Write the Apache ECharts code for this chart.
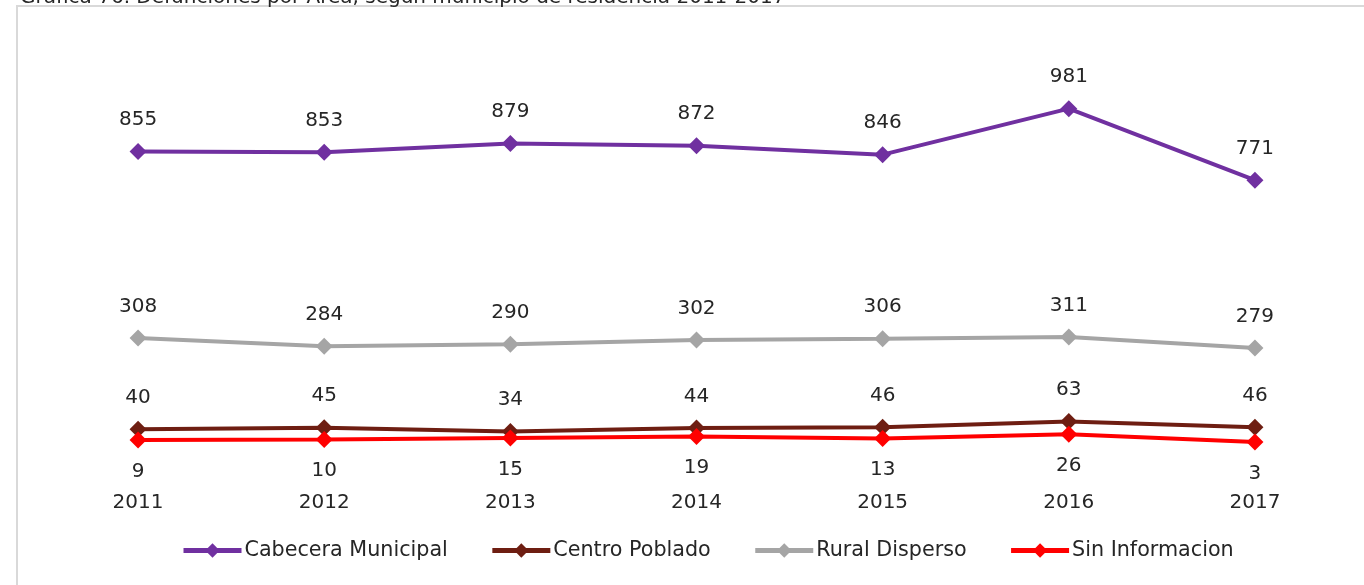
<!DOCTYPE html>
<html>
<head>
<meta charset="utf-8">
<script src="https://cdn.jsdelivr.net/npm/echarts@6/dist/echarts.min.js"></script>
<style>
  html, body { margin: 0; padding: 0; background: #fff; }
  #chart1 { width: 1364px; height: 585px; }
</style>
</head>
<body>
<div id="chart1"></div>
<script>
var years = ['2011', '2012', '2013', '2014', '2015', '2016', '2017'];
var cabecera = [855, 853, 879, 872, 846, 981, 771];
var centro = [40, 45, 34, 44, 46, 63, 46];
var rural = [308, 284, 290, 302, 306, 311, 279];
var sinInfo = [9, 10, 15, 19, 13, 26, 3];

var font = '"DejaVu Sans", sans-serif';
var txt = '#262626';
var myChart1 = echarts.init(document.getElementById('chart1'));

function mkSeries(name, data, color, pos) {
    return {
        type: 'line',
        name: name,
        data: data,
        symbol: 'diamond',
        symbolSize: 17,
        lineStyle: { color: color, width: 4 },
        itemStyle: { color: color },
        label: {
            show: true,
            position: pos,
            distance: 13,
            color: txt,
            fontSize: 20,
            fontFamily: font
        },
        animation: false
    };
}

myChart1.setOption({
    backgroundColor: '#fff',
    title: {
        text: 'Gráfica 76. Defunciones por Área, según municipio de residencia 2011-2017',
        left: 20,
        top: -12,
        padding: 0,
        textStyle: { color: txt, fontSize: 20, fontWeight: 'normal', fontFamily: font }
    },
    graphic: [{
        type: 'rect',
        shape: { x: 17, y: 6, width: 1400, height: 650 },
        style: { fill: 'none', stroke: '#d9d9d9', lineWidth: 2 },
        silent: true
    }],
    legend: {
        bottom: 19,
        left: 176,
        itemWidth: 58,
        itemHeight: 18,
        itemGap: 42,
        lineStyle: { width: 5 },
        textStyle: { color: txt, fontSize: 20.7, fontFamily: font, padding: [0, 0, 0, -2] },
        data: ['Cabecera Municipal', 'Centro Poblado', 'Rural Disperso', 'Sin Informacion']
    },
    grid: { left: 45, right: 16, top: 34, bottom: 142 },
    xAxis: {
        type: 'category',
        data: years,
        axisLine: { show: false },
        axisTick: { show: false },
        axisLabel: { margin: 50, color: txt, fontSize: 20, fontFamily: font }
    },
    yAxis: {
        type: 'value',
        min: 0,
        max: 1200,
        show: false
    },
    series: [
        mkSeries('Cabecera Municipal', cabecera, '#7030a0', 'top'),
        mkSeries('Centro Poblado', centro, '#6e1e12', 'top'),
        mkSeries('Rural Disperso', rural, '#a5a5a5', 'top'),
        mkSeries('Sin Informacion', sinInfo, '#ff0000', 'bottom')
    ]
});

window.onresize = function () {
    myChart1.resize();
};
</script>
</body>
</html>
